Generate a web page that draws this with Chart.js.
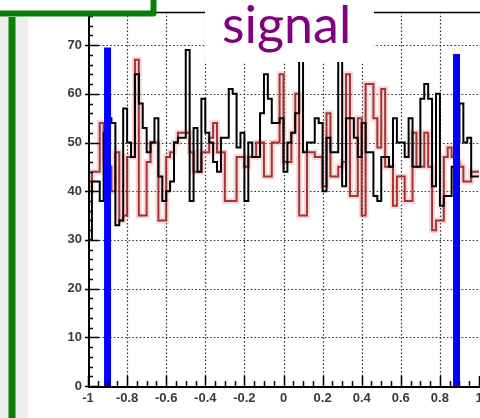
<!DOCTYPE html>
<html>
<head>
<meta charset="utf-8">
<script src="https://cdn.jsdelivr.net/npm/chart.js@4/dist/chart.umd.min.js"></script>
<style>
  html, body { margin: 0; padding: 0; background: #fff; }
  canvas { display: block; }
</style>
</head>
<body>
<canvas id="c" width="480" height="418"></canvas>
<script>
// 100 bins over [-1, 1]
var binCount = 100;
var xMin = -1, xMax = 1;
var yMax = 76.8;

var blackCounts = [
  30, 42, 42, 38, 52, 55, 54, 33, 34, 57,
  50, 47, 64, 58, 53, 48, 50, 55, 43, 38,
  40, 42, 50, 51, 51, 69, 38, 53, 44, 59,
  52, 50, 46, 44, 51, 51, 61, 60, 49, 52,
  38, 50, 47, 47, 56, 64, 59, 54, 54, 55,
  44, 50, 52, 56, 70, 48, 50, 50, 55, 54,
  40, 51, 48, 48, 70, 41, 55, 55, 51, 47,
  54, 48, 48, 39, 38, 47, 47, 45, 55, 50,
  50, 47, 55, 45, 45, 59, 62, 59, 41, 60,
  37, 39, 39, 45, 50, 58, 50, 51, 43, 43
];

var redCounts = [
  40, 44, 44, 54, 46, 45, 40, 48, 34, 35,
  47, 47, 67, 35, 35, 46, 50, 50, 34, 34,
  47, 48, 50, 52, 52, 52, 48, 44, 44, 48,
  48, 51, 54, 48, 48, 38, 38, 38, 47, 47,
  45, 47, 47, 50, 50, 43, 43, 50, 50, 64,
  46, 46, 52, 60, 35, 35, 48, 48, 47, 47,
  41, 56, 43, 43, 45, 46, 64, 39, 39, 55,
  35, 62, 62, 55, 49, 61, 45, 45, 37, 43,
  43, 38, 38, 52, 45, 45, 52, 45, 32, 34,
  34, 47, 49, 47, 46, 45, 42, 42, 44, 44
];

// cut positions and the height of the cut markers
var cutX = [-0.90, 0.885];
var cutTop = [69.5, 68.2];

var xMajor = [-0.8, -0.6, -0.4, -0.2, 0, 0.2, 0.4, 0.6, 0.8];
var yMajor = [10, 20, 30, 40, 50, 60, 70];

// step outline: one point per left bin edge, plus the right end
function steps(counts) {
  var w = (xMax - xMin) / counts.length;
  var pts = counts.map(function (v, i) { return { x: xMin + i * w, y: v }; });
  pts.push({ x: xMax, y: counts[counts.length - 1] });
  return pts;
}

function cutLine(i) {
  return [{ x: cutX[i], y: 0 }, { x: cutX[i], y: cutTop[i] }];
}

var frame = {
  id: 'frame',
  beforeDatasetsDraw: function (chart) {
    var ctx = chart.ctx, a = chart.chartArea, x = chart.scales.x, y = chart.scales.y;
    ctx.save();
    ctx.strokeStyle = '#2a2a2a';
    ctx.lineWidth = 1.2;
    ctx.setLineDash([1.5, 2.2]);
    xMajor.forEach(function (v) {
      var px = Math.round(x.getPixelForValue(v)) + 0.5;
      ctx.beginPath(); ctx.moveTo(px, a.top); ctx.lineTo(px, a.bottom); ctx.stroke();
    });
    yMajor.forEach(function (v) {
      var py = Math.round(y.getPixelForValue(v)) + 0.5;
      ctx.beginPath(); ctx.moveTo(a.left, py); ctx.lineTo(a.right, py); ctx.stroke();
    });
    ctx.restore();
  },
  afterDatasetsDraw: function (chart) {
    var ctx = chart.ctx, a = chart.chartArea, x = chart.scales.x, y = chart.scales.y;
    ctx.save();
    ctx.strokeStyle = '#000';
    // frame
    ctx.lineWidth = 1.5;
    ctx.beginPath(); ctx.moveTo(a.left, a.top + 0.5); ctx.lineTo(a.right + 2, a.top + 0.5); ctx.stroke();
    ctx.lineWidth = 2;
    ctx.beginPath();
    ctx.moveTo(a.left + 1, a.top); ctx.lineTo(a.left + 1, a.bottom + 1); ctx.lineTo(a.right + 2, a.bottom + 1);
    ctx.stroke();
    // y ticks, every 2, pointing into the frame
    ctx.lineWidth = 1.5;
    for (var v = 0; v <= yMax; v += 2) {
      var py = Math.round(y.getPixelForValue(v)) + 0.5;
      var len = v % 10 === 0 ? 11 : 5;
      ctx.beginPath(); ctx.moveTo(a.left - (v % 10 === 0 ? 3 : 0), py); ctx.lineTo(a.left + len, py); ctx.stroke();
    }
    // x ticks, every 0.05
    for (var k = 0; k <= 40; k++) {
      var xv = xMin + k * 0.05;
      var px = Math.round(x.getPixelForValue(xv)) + 0.5;
      var l2 = k % 4 === 0 ? 10 : 5;
      ctx.beginPath(); ctx.moveTo(px, a.bottom + 1); ctx.lineTo(px, a.bottom - l2); ctx.stroke();
    }
    ctx.restore();
  },
  afterDraw: function (chart) {
    var ctx = chart.ctx;
    ctx.save();
    // left strip with the green bracket
    ctx.fillStyle = '#eeeeee';
    ctx.fillRect(0, 17, 28, 401);
    ctx.strokeStyle = '#0a800a';
    ctx.lineWidth = 7;
    ctx.beginPath(); ctx.moveTo(12, 17); ctx.lineTo(12, 420); ctx.stroke();
    ctx.lineWidth = 6;
    ctx.lineJoin = 'round';
    ctx.beginPath(); ctx.moveTo(-2, 13.5); ctx.lineTo(153.5, 13.5); ctx.lineTo(153.5, -4); ctx.stroke();
    // title box
    ctx.fillStyle = '#ffffff';
    ctx.fillRect(205, 0, 169, 62);
    ctx.fillStyle = '#800080';
    ctx.font = '52px Lato';
    ctx.textBaseline = 'alphabetic';
    ctx.fillText('signal', 222, 43);
    ctx.restore();
  }
};

new Chart(document.getElementById('c'), {
  type: 'line',
  data: {
    datasets: [{
      data: cutLine(0),
      borderColor: '#0000ff',
      borderWidth: 7,
      borderCapStyle: 'butt',
      pointRadius: 0,
      order: 0
    }, {
      data: cutLine(1),
      borderColor: '#0000ff',
      borderWidth: 7,
      borderCapStyle: 'butt',
      pointRadius: 0,
      order: 0
    }, {
      label: 'black',
      data: steps(blackCounts),
      stepped: 'before',
      borderColor: '#000000',
      borderWidth: 2,
      pointRadius: 0,
      order: 1
    }, {
      label: 'red',
      data: steps(redCounts),
      stepped: 'before',
      borderColor: 'rgba(150, 25, 25, 0.85)',
      borderWidth: 2,
      pointRadius: 0,
      order: 2
    }, {
      label: 'red halo',
      data: steps(redCounts),
      stepped: 'before',
      borderColor: 'rgba(225, 130, 130, 0.3)',
      borderWidth: 6,
      pointRadius: 0,
      order: 3
    }]
  },
  options: {
    responsive: false,
    animation: false,
    layout: { autoPadding: false, padding: { top: 12, right: 1, bottom: 2, left: 0 } },
    plugins: { legend: { display: false }, tooltip: { enabled: false } },
    scales: {
      x: {
        type: 'linear',
        min: xMin,
        max: xMax,
        grid: { display: false, drawTicks: false },
        border: { display: false },
        ticks: {
          stepSize: 0.2,
          maxRotation: 0,
          autoSkip: false,
          padding: 5,
          color: '#3a3a3a',
          font: { family: 'Liberation Sans', size: 13, weight: 'bold' },
          callback: function (v) { return String(Math.round(v * 10) / 10); }
        },
        afterFit: function (s) { s.height = 30; s.paddingLeft = 0; s.paddingRight = 0; }
      },
      y: {
        min: 0,
        max: yMax,
        grid: { display: false, drawTicks: false },
        border: { display: false },
        ticks: {
          stepSize: 10,
          padding: 6,
          color: '#3a3a3a',
          font: { family: 'Liberation Sans', size: 13, weight: 'bold' }
        },
        afterBuildTicks: function (s) {
          s.ticks = s.ticks.filter(function (t) { return t.value % 10 === 0; });
        },
        afterFit: function (s) { s.width = 88; s.paddingTop = 0; s.paddingBottom = 0; }
      }
    }
  },
  plugins: [frame]
});
</script>
</body>
</html>
